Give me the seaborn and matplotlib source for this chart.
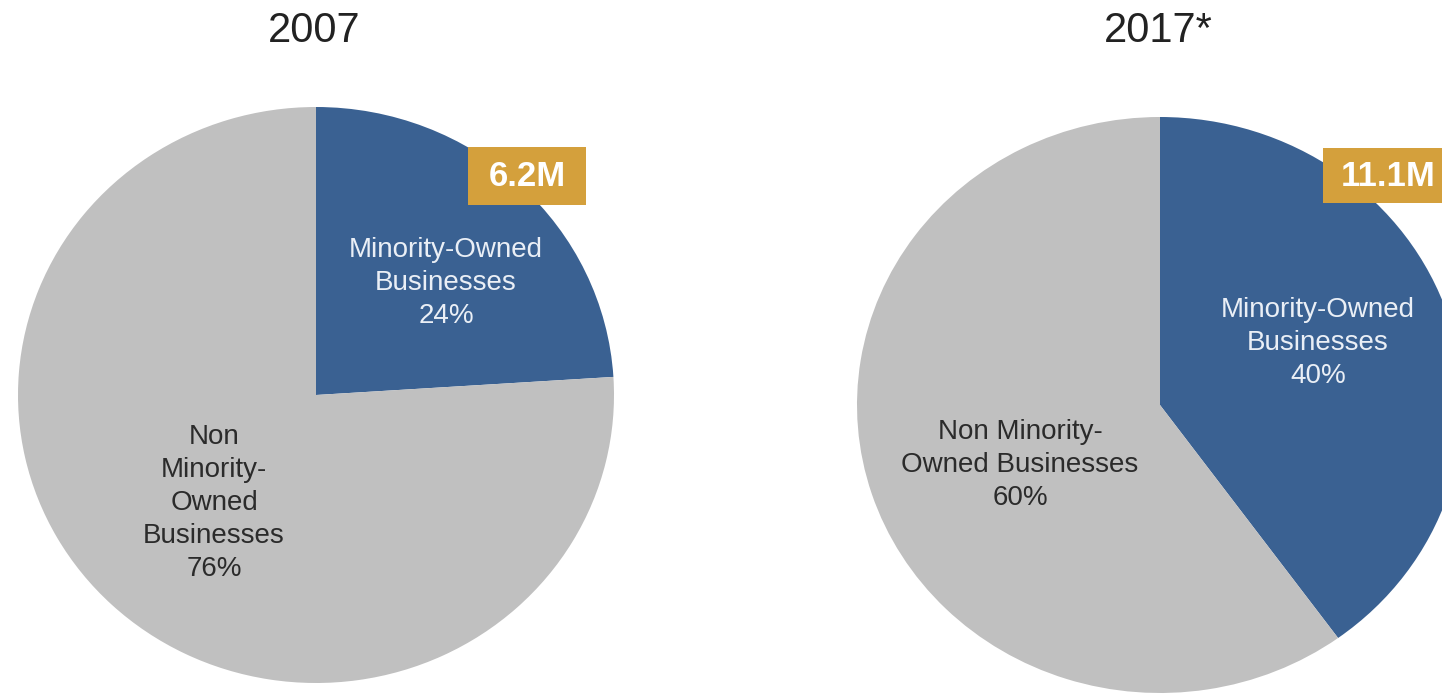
import matplotlib
matplotlib.use("Agg")
import matplotlib.pyplot as plt
from matplotlib.patches import Rectangle
import seaborn as sns

# Data
years = ["2007", "2017*"]
segments = ["Minority-Owned Businesses", "Non Minority-Owned Businesses"]
minority_share = [24, 40]
non_minority_share = [76, 60]
minority_counts = ["6.2M", "11.1M"]
minority_labels = ["Minority-Owned\nBusinesses\n{}%", "Minority-Owned\nBusinesses\n{}%"]
non_minority_labels = ["Non\nMinority-\nOwned\nBusinesses\n{}%", "Non Minority-\nOwned Businesses\n{}%"]

sns.set_theme(style="white")
plt.rcParams["font.family"] = ["Liberation Sans", "DejaVu Sans"]

BLUE = "#3a6192"
GREY = "#c0c0c0"
GOLD = "#d4a03c"
DARK = "#2b2b2b"
LIGHT = "#eaeff6"

W, H = 1442, 699
fig = plt.figure(figsize=(W / 100, H / 100), dpi=100)
fig.patch.set_facecolor("white")

# pixel-space layout of each pie: centre and horizontal/vertical radii
pies = [
    dict(cx=316, cy=395, rx=298, ry=288),
    dict(cx=1160, cy=405, rx=303, ry=288),
]

palette = sns.color_palette([BLUE, GREY])

for i, p in enumerate(pies):
    left = (p["cx"] - p["rx"]) / W
    bottom = (H - (p["cy"] + p["ry"])) / H
    ax = fig.add_axes([left, bottom, 2 * p["rx"] / W, 2 * p["ry"] / H])
    ax.pie([minority_share[i], non_minority_share[i]], colors=palette,
           startangle=90, counterclock=False, radius=1,
           wedgeprops=dict(linewidth=0))
    ax.set_aspect("auto")
    ax.set_xlim(-1, 1)
    ax.set_ylim(-1, 1)
    ax.axis("off")

# overlay for titles, labels and count badges in pixel coordinates
ov = fig.add_axes([0, 0, 1, 1], zorder=5)
ov.set_xlim(0, W)
ov.set_ylim(H, 0)
ov.axis("off")
ov.patch.set_alpha(0)

title_x = [314, 1158]
for i, t in enumerate(years):
    ov.text(title_x[i], 42, t, ha="center", va="baseline", fontsize=30, color="#222222")

# inner labels
min_pos = [(446, 283), (1318, 343)]
non_pos = [(214, 503), (1020, 465)]
for i in range(2):
    ov.text(*min_pos[i], minority_labels[i].format(minority_share[i]), ha="center", va="center",
            fontsize=20, color=LIGHT, linespacing=1.36)
    ov.text(*non_pos[i], non_minority_labels[i].format(non_minority_share[i]), ha="center", va="center",
            fontsize=20, color=DARK, linespacing=1.36)

# count badges
badges = [(468, 147, 118, 58, 527), (1323, 148, 130, 55, 1388)]
for i, (bx, by, bw, bh, tx) in enumerate(badges):
    ov.add_patch(Rectangle((bx, by), bw, bh, facecolor=GOLD, edgecolor="none", clip_on=False))
    ov.text(tx, by + bh / 2 + 1, minority_counts[i], ha="center", va="center",
            fontsize=25, fontweight="bold", color="white")

fig.savefig("out.png", dpi=100, facecolor="white")
